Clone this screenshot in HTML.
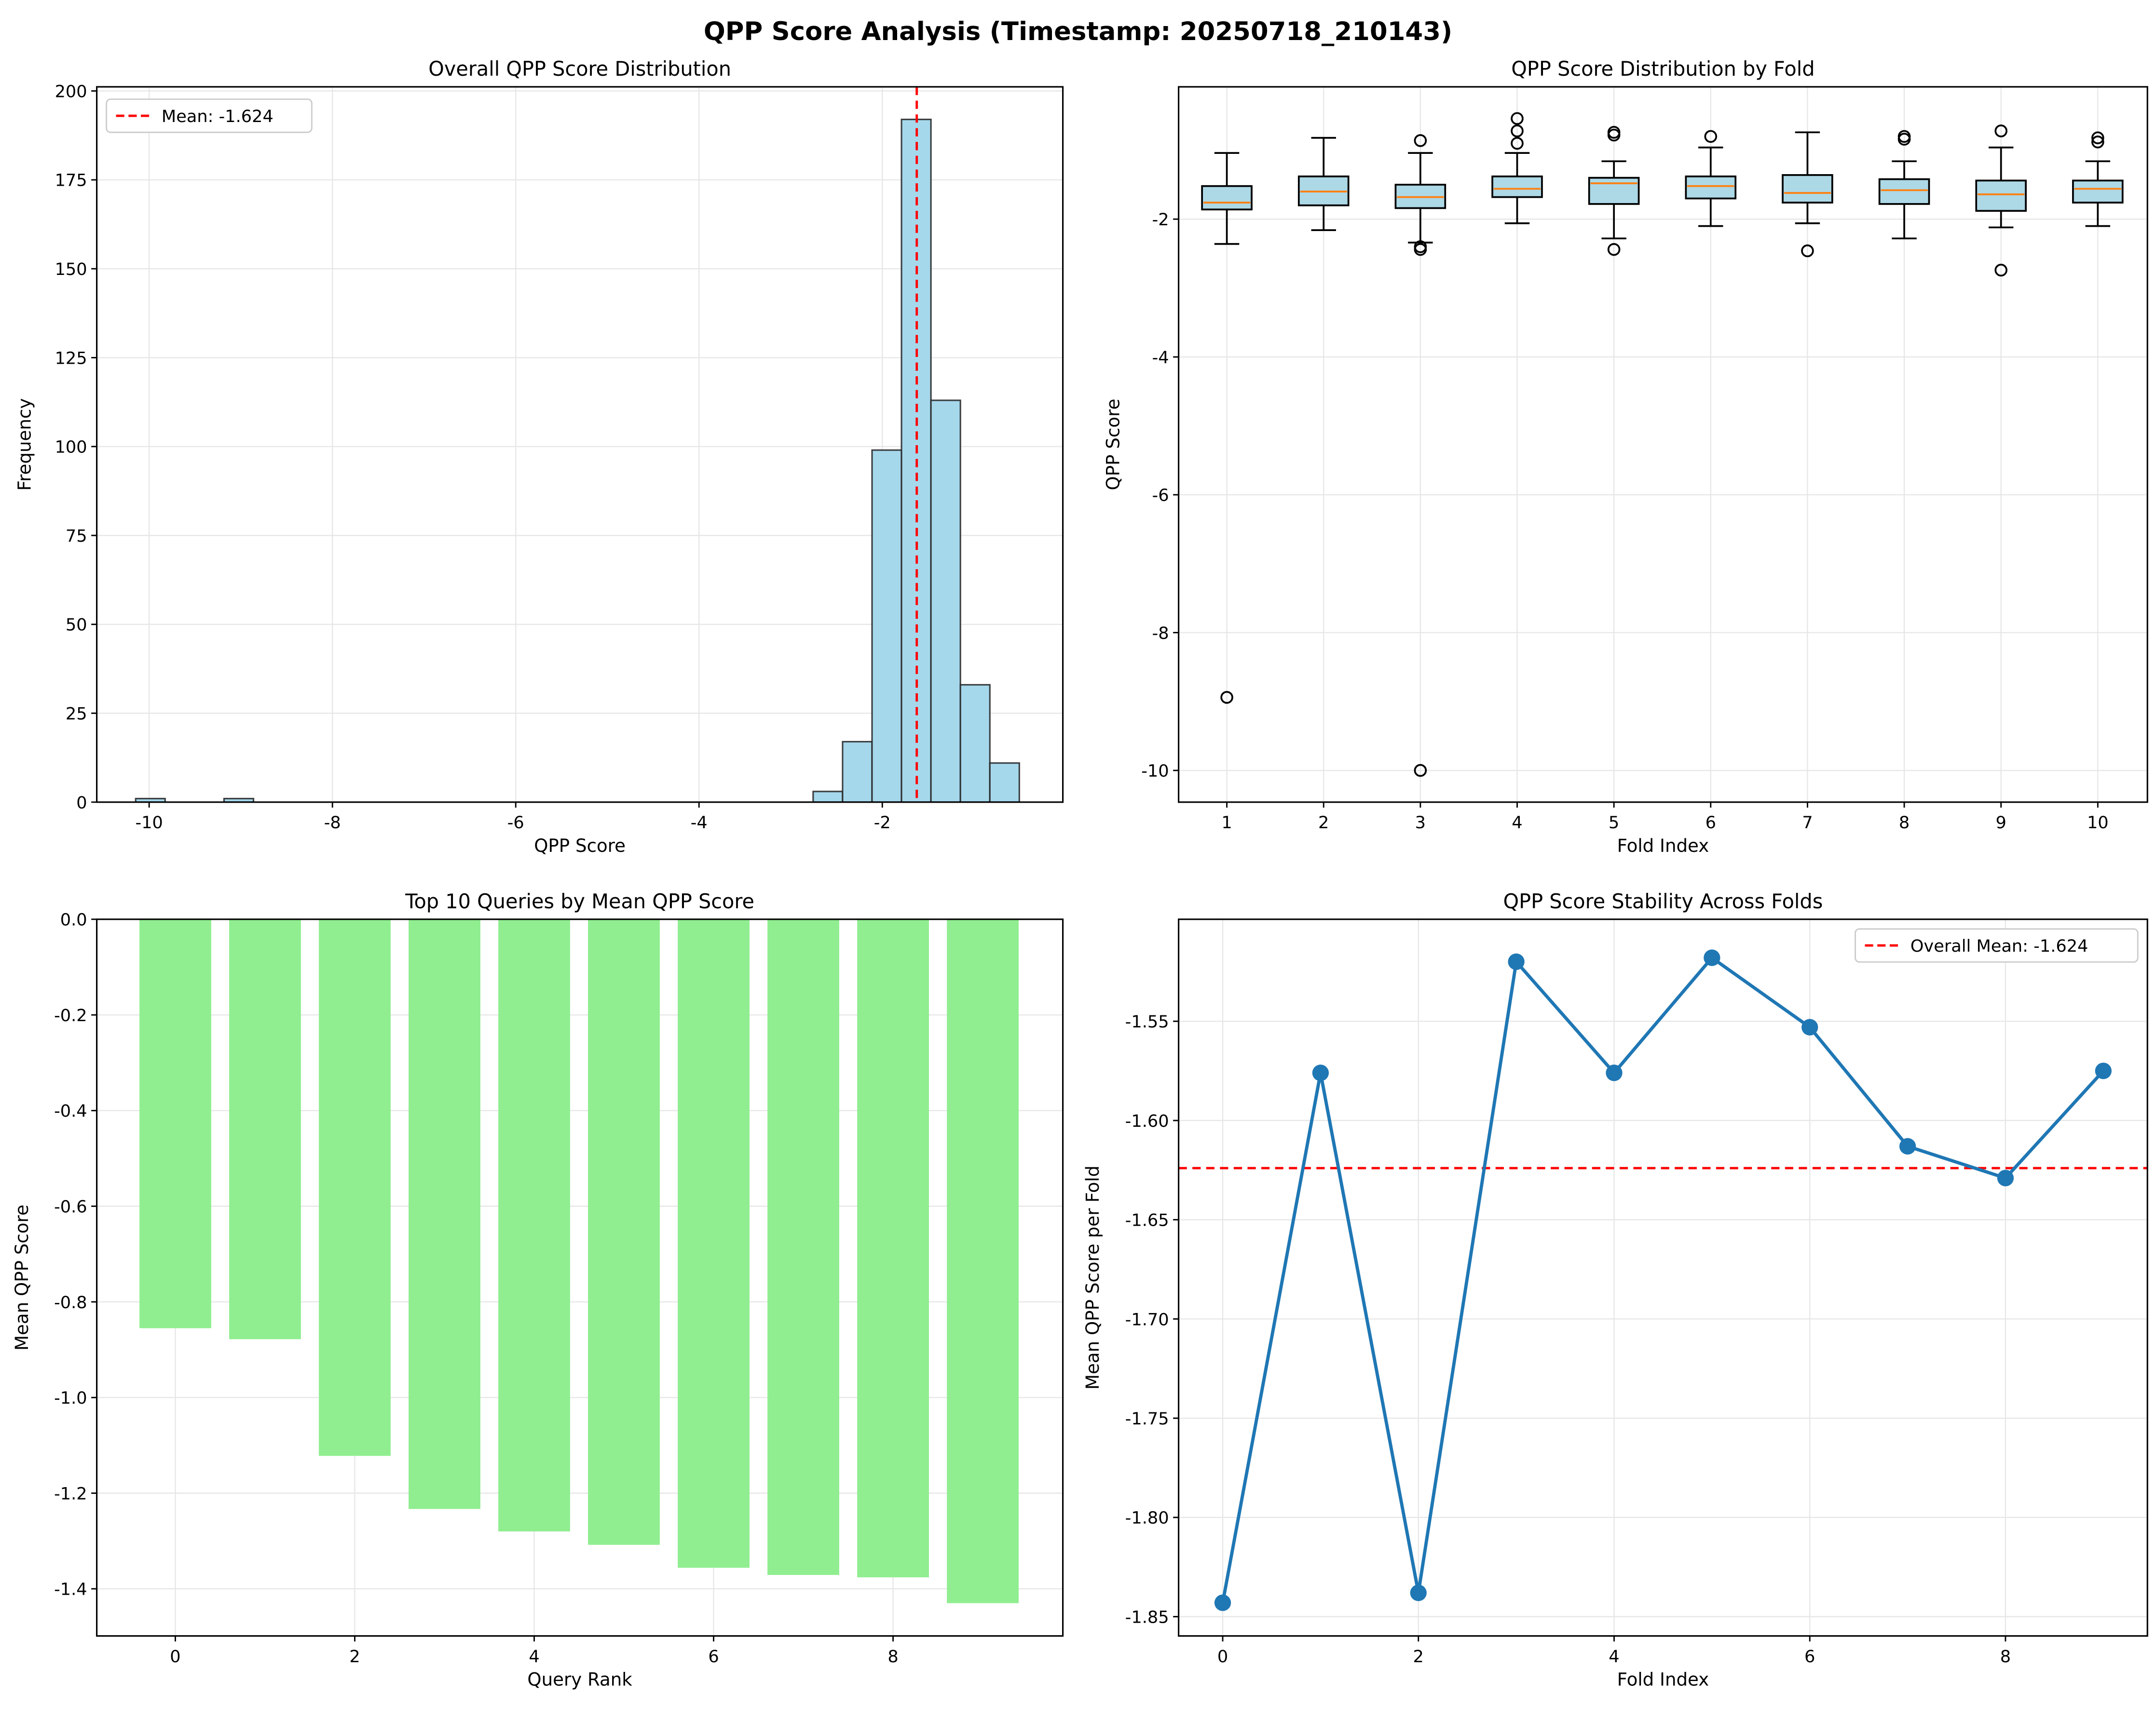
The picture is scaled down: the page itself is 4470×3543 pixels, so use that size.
<!DOCTYPE html>
<html><head><meta charset="utf-8"><style>
html,body{margin:0;padding:0;background:#fff}
svg{display:block}
text{font-family:"DejaVu Sans","Liberation Sans",sans-serif;fill:#000}
</style></head><body>
<svg id="fig" width="4470" height="3543" viewBox="0 0 1564 1240" xmlns="http://www.w3.org/2000/svg">
<rect width="1564" height="1240" fill="#fff"/>
<text x="782" y="29" font-size="18.5" font-weight="bold" text-anchor="middle">QPP Score Analysis (Timestamp: 20250718_210143)</text>
<g id="p1"></g>
<g id="p2"></g>
<g id="p3"></g>
<g id="p4"></g>
</svg>
<script>
// Panel 1 data
const histCounts = [1,0,0,1,0,0,0,0,0,0,0,0,0,0,0,0,0,0,0,0,0,0,0,3,17,99,192,113,33,11];
const histMin = -10.147;
const histBinWidth = 0.3214;
const overallMean = -1.624;
const p1XTicks = [-10,-8,-6,-4,-2];
const p1YTicks = [0,25,50,75,100,125,150,175,200];
// Panel 2 data
const folds = [1,2,3,4,5,6,7,8,9,10];
const whiskHigh = [-1.04,-0.82,-1.04,-1.04,-1.16,-0.96,-0.74,-1.16,-0.96,-1.16];
const q3s = [-1.52,-1.38,-1.50,-1.38,-1.40,-1.38,-1.36,-1.42,-1.44,-1.44];
const medians = [-1.76,-1.60,-1.68,-1.56,-1.48,-1.52,-1.62,-1.58,-1.64,-1.56];
const q1s = [-1.86,-1.80,-1.84,-1.68,-1.78,-1.70,-1.76,-1.78,-1.88,-1.76];
const whiskLow = [-2.36,-2.16,-2.34,-2.06,-2.28,-2.10,-2.06,-2.28,-2.12,-2.10];
const outliers = [[-8.94],[],[-0.86,-2.40,-2.44,-10.0],[-0.54,-0.72,-0.90],[-0.74,-0.78,-2.44],[-0.80],[-2.46],[-0.80,-0.84],[-0.72,-2.74],[-0.82,-0.88]];
const p2YTicks = [-2,-4,-6,-8,-10];
// Panel 3 data
const queryRanks = [0,1,2,3,4,5,6,7,8,9];
const queryMeans = [-0.855,-0.878,-1.122,-1.233,-1.280,-1.308,-1.356,-1.371,-1.376,-1.430];
const p3XTicks = [0,2,4,6,8];
const p3YTicks = [0,-0.2,-0.4,-0.6,-0.8,-1.0,-1.2,-1.4];
// Panel 4 data
const foldIdx = [0,1,2,3,4,5,6,7,8,9];
const foldMeans = [-1.843,-1.576,-1.838,-1.520,-1.576,-1.518,-1.553,-1.613,-1.629,-1.575];
const p4XTicks = [0,2,4,6,8];
const p4YTicks = [-1.55,-1.60,-1.65,-1.70,-1.75,-1.80,-1.85];

const NS="http://www.w3.org/2000/svg";
function mk(parent,tag,attrs,txt){const e=document.createElementNS(NS,tag);for(const k in attrs)e.setAttribute(k,attrs[k]);if(txt!==undefined)e.textContent=txt;parent.appendChild(e);return e;}

function axes(g,L,T,R,B,xs,ys,xt,yt){
  xt.forEach(v=>{const x=xs(v);
    const gl=mk(g,'line',{x1:x,x2:x,y1:T,y2:B,stroke:'#e6e6e6','stroke-width':0.8});
    });
  yt.forEach(v=>{const y=ys(v);
    const gl=mk(g,'line',{x1:L,x2:R,y1:y,y2:y,stroke:'#e6e6e6','stroke-width':0.8});
    });
}
function frame(g,L,T,R,B,xs,ys,xt,yt,xd,yd,title,xl,yl,ylx){
  const fr=mk(g,'rect',{x:L,y:T,width:R-L,height:B-T,fill:'none',stroke:'#000','stroke-width':1.1});
  
  xt.forEach(v=>{const x=xs(v);
    mk(g,'line',{x1:x,x2:x,y1:B,y2:B+4,stroke:'#000','stroke-width':1});
    const t=mk(g,'text',{x:x,y:B+19,'font-size':12.3,'text-anchor':'middle'},xd(v));
    });
  yt.forEach(v=>{const y=ys(v);
    mk(g,'line',{x1:L-4,x2:L,y1:y,y2:y,stroke:'#000','stroke-width':1});
    const t=mk(g,'text',{x:L-7,y:y+4.5,'font-size':12.3,'text-anchor':'end'},yd(v));
    });
  const tt=mk(g,'text',{x:(L+R)/2,y:T-8,'font-size':14.5,'text-anchor':'middle'},title);
  
  const xa=mk(g,'text',{x:(L+R)/2,y:B+36,'font-size':13,'text-anchor':'middle'},xl);
  
  const ya=mk(g,'text',{x:ylx,y:(T+B)/2,'font-size':13,'text-anchor':'middle',transform:`rotate(-90 ${ylx} ${(T+B)/2})`},yl);
  
}
function legend(g,x,y,w,label){
  const lg=mk(g,'g',{});
  
  mk(lg,'rect',{x:x,y:y,width:w,height:24,rx:3,fill:'#fff',stroke:'#ccc','stroke-width':1});
  mk(lg,'line',{x1:x+7,x2:x+33,y1:y+12,y2:y+12,stroke:'#ff0000','stroke-width':1.7,'stroke-dasharray':'6,3'});
  const t=mk(lg,'text',{x:x+40,y:y+16.5,'font-size':12.3},label);
  
}

// Panel 1
(function(){
  const g=document.getElementById('p1');const L=70,T=63,R=771,B=582;
  const xs=v=>640+(v+2)*66.5, ys=v=>582-v*2.58;
  axes(g,L,T,R,B,xs,ys,p1XTicks,p1YTicks);
  histCounts.forEach((c,i)=>{if(c<=0)return;const x0=xs(histMin+i*histBinWidth),x1=xs(histMin+(i+1)*histBinWidth);
    const r=mk(g,'rect',{x:x0,y:ys(c),width:x1-x0,height:ys(0)-ys(c),fill:'#a6d8ec',stroke:'#222','stroke-width':1.1,'stroke-opacity':0.85});
    });
  const ml=mk(g,'line',{x1:xs(overallMean),x2:xs(overallMean),y1:T,y2:B,stroke:'#ff0000','stroke-width':1.7,'stroke-dasharray':'6,4'});
  
  frame(g,L,T,R,B,xs,ys,p1XTicks,p1YTicks,v=>String(v),v=>String(v),'Overall QPP Score Distribution','QPP Score','Frequency',22);
  legend(g,77,72,149,'Mean: '+overallMean.toFixed(3));
})();

// Panel 2
(function(){
  const g=document.getElementById('p2');const L=855,T=63,R=1558,B=582;
  const xs=v=>890+(v-1)*70.22, ys=v=>59-v*50;
  axes(g,L,T,R,B,xs,ys,folds,p2YTicks);
  folds.forEach((f,i)=>{const cx=xs(f),hw=18,cw=9;
    const bg=mk(g,'g',{});
    mk(bg,'line',{x1:cx,x2:cx,y1:ys(q3s[i]),y2:ys(whiskHigh[i]),stroke:'#000','stroke-width':1.3});
    mk(bg,'line',{x1:cx,x2:cx,y1:ys(q1s[i]),y2:ys(whiskLow[i]),stroke:'#000','stroke-width':1.3});
    mk(bg,'line',{x1:cx-cw,x2:cx+cw,y1:ys(whiskHigh[i]),y2:ys(whiskHigh[i]),stroke:'#000','stroke-width':1.3});
    mk(bg,'line',{x1:cx-cw,x2:cx+cw,y1:ys(whiskLow[i]),y2:ys(whiskLow[i]),stroke:'#000','stroke-width':1.3});
    mk(bg,'rect',{x:cx-hw,y:ys(q3s[i]),width:2*hw,height:ys(q1s[i])-ys(q3s[i]),fill:'#add8e6',stroke:'#000','stroke-width':1.3});
    mk(bg,'line',{x1:cx-hw+1,x2:cx+hw-1,y1:ys(medians[i]),y2:ys(medians[i]),stroke:'#ff7f0e','stroke-width':1.3});
    outliers[i].forEach(o=>{const c=mk(bg,'circle',{cx:cx,cy:ys(o),r:4,fill:'none',stroke:'#000','stroke-width':1.3});
      });
  });
  frame(g,L,T,R,B,xs,ys,folds,p2YTicks,v=>String(v),v=>String(v),'QPP Score Distribution by Fold','Fold Index','QPP Score',812);
})();

// Panel 3
(function(){
  const g=document.getElementById('p3');const L=70,T=667,R=771,B=1187;
  const xs=v=>127+v*65.1, ys=v=>667-v*347;
  axes(g,L,T,R,B,xs,ys,p3XTicks,p3YTicks);
  queryRanks.forEach((q,i)=>{const x0=xs(q-0.4),x1=xs(q+0.4);
    const r=mk(g,'rect',{x:x0,y:ys(0),width:x1-x0,height:ys(queryMeans[i])-ys(0),fill:'#90ee90'});
    });
  frame(g,L,T,R,B,xs,ys,p3XTicks,p3YTicks,v=>String(v),v=>v.toFixed(1),'Top 10 Queries by Mean QPP Score','Query Rank','Mean QPP Score',20);
})();

// Panel 4
(function(){
  const g=document.getElementById('p4');const L=855,T=667,R=1558,B=1187;
  const xs=v=>887+v*71, ys=v=>741-(v+1.55)*1440;
  axes(g,L,T,R,B,xs,ys,p4XTicks,p4YTicks);
  const ml=mk(g,'line',{x1:L,x2:R,y1:ys(overallMean),y2:ys(overallMean),stroke:'#ff0000','stroke-width':1.7,'stroke-dasharray':'6,4'});
  
  const pts=foldIdx.map((f,i)=>xs(f)+','+ys(foldMeans[i])).join(' ');
  const pl=mk(g,'polyline',{points:pts,fill:'none',stroke:'#1f77b4','stroke-width':2.4});
  
  foldIdx.forEach((f,i)=>{const c=mk(g,'circle',{cx:xs(f),cy:ys(foldMeans[i]),r:6,fill:'#1f77b4'});
    });
  frame(g,L,T,R,B,xs,ys,p4XTicks,p4YTicks,v=>String(v),v=>v.toFixed(2),'QPP Score Stability Across Folds','Fold Index','Mean QPP Score per Fold',797);
  legend(g,1346,674,205,'Overall Mean: '+overallMean.toFixed(3));
})();
</script>
</body></html>
